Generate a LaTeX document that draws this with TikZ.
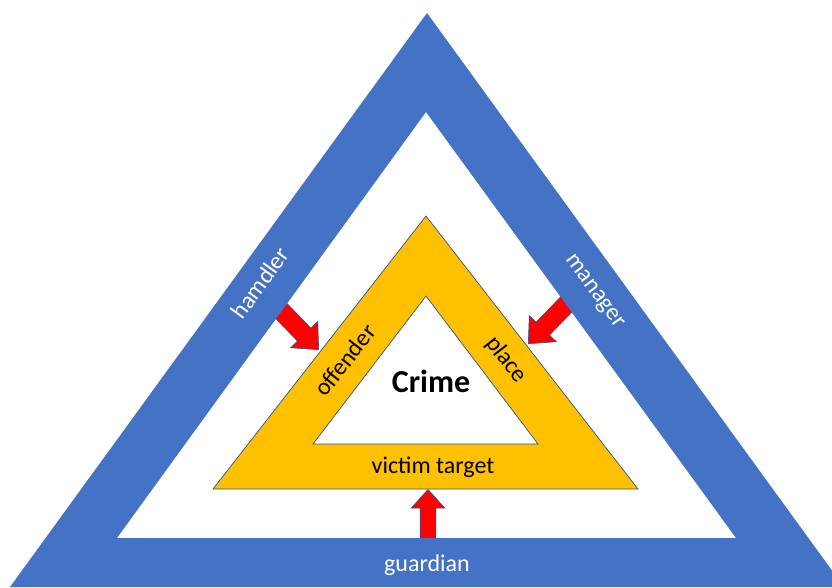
\documentclass[tikz,border=0pt]{standalone}
\usepackage{fontspec}
\setmainfont{Carlito}
\usetikzlibrary{shapes.arrows}
\definecolor{bandblue}{HTML}{4472C4}
\definecolor{bandyellow}{HTML}{FFC000}
\definecolor{edgeblue}{HTML}{2F528F}
\tikzset{
  redarrow/.style={single arrow, draw=edgeblue, line width=0.6pt, fill=red, inner sep=0pt,
    text height=18pt, text depth=0pt, text width=0pt,
    minimum width=37pt, minimum height=57pt, single arrow head extend=9.5pt, single arrow tip angle=84},
  lab/.style={font=\fontsize{24}{28}\selectfont, inner sep=0pt},
}
\begin{document}
\begin{tikzpicture}[x=1pt,y=-1pt]
		\useasboundingbox (0,0) rectangle (832,587);
		\clip (0,0) rectangle (832,587);

		\node[redarrow, rotate=-46, anchor=tip] (toOffender) at (319,350) {};
		\node[redarrow, rotate=-134, anchor=tip] (toPlace) at (528,344) {};
		\node[redarrow, rotate=90, anchor=tip, text height=15pt, minimum width=33pt,
			single arrow head extend=9pt, minimum height=54pt] (toVictim) at (428,489) {};

		\fill[bandblue, even odd rule] (427,13)--(10,587)--(844,587)--cycle
			(426,112)--(117,538)--(736,538)--cycle;
		\filldraw[fill=bandyellow, draw=edgeblue, line width=0.7pt, even odd rule] (426,216)--(213,489)--(638,489)--cycle
			(426,296)--(313,444)--(538,444)--cycle;

		\node[font=\fontsize{32}{36}\selectfont\bfseries, inner sep=0pt] (crime) at (431,381) {Crime};
		\node[lab, rotate=52] (offender) at (345,360) {offender};
		\node[lab, rotate=-52] (place) at (506,360) {place};
		\node[lab] (victim) at (433,467) {victim target};

		\node[lab, text=white, rotate=54] (hamdler) at (260,283) {hamdler};
		\node[lab, text=white, rotate=-54] (manager) at (594,292) {manager};
		\node[lab, text=white] (guardian) at (427,565) {guardian};
	\end{tikzpicture}
\end{document}
